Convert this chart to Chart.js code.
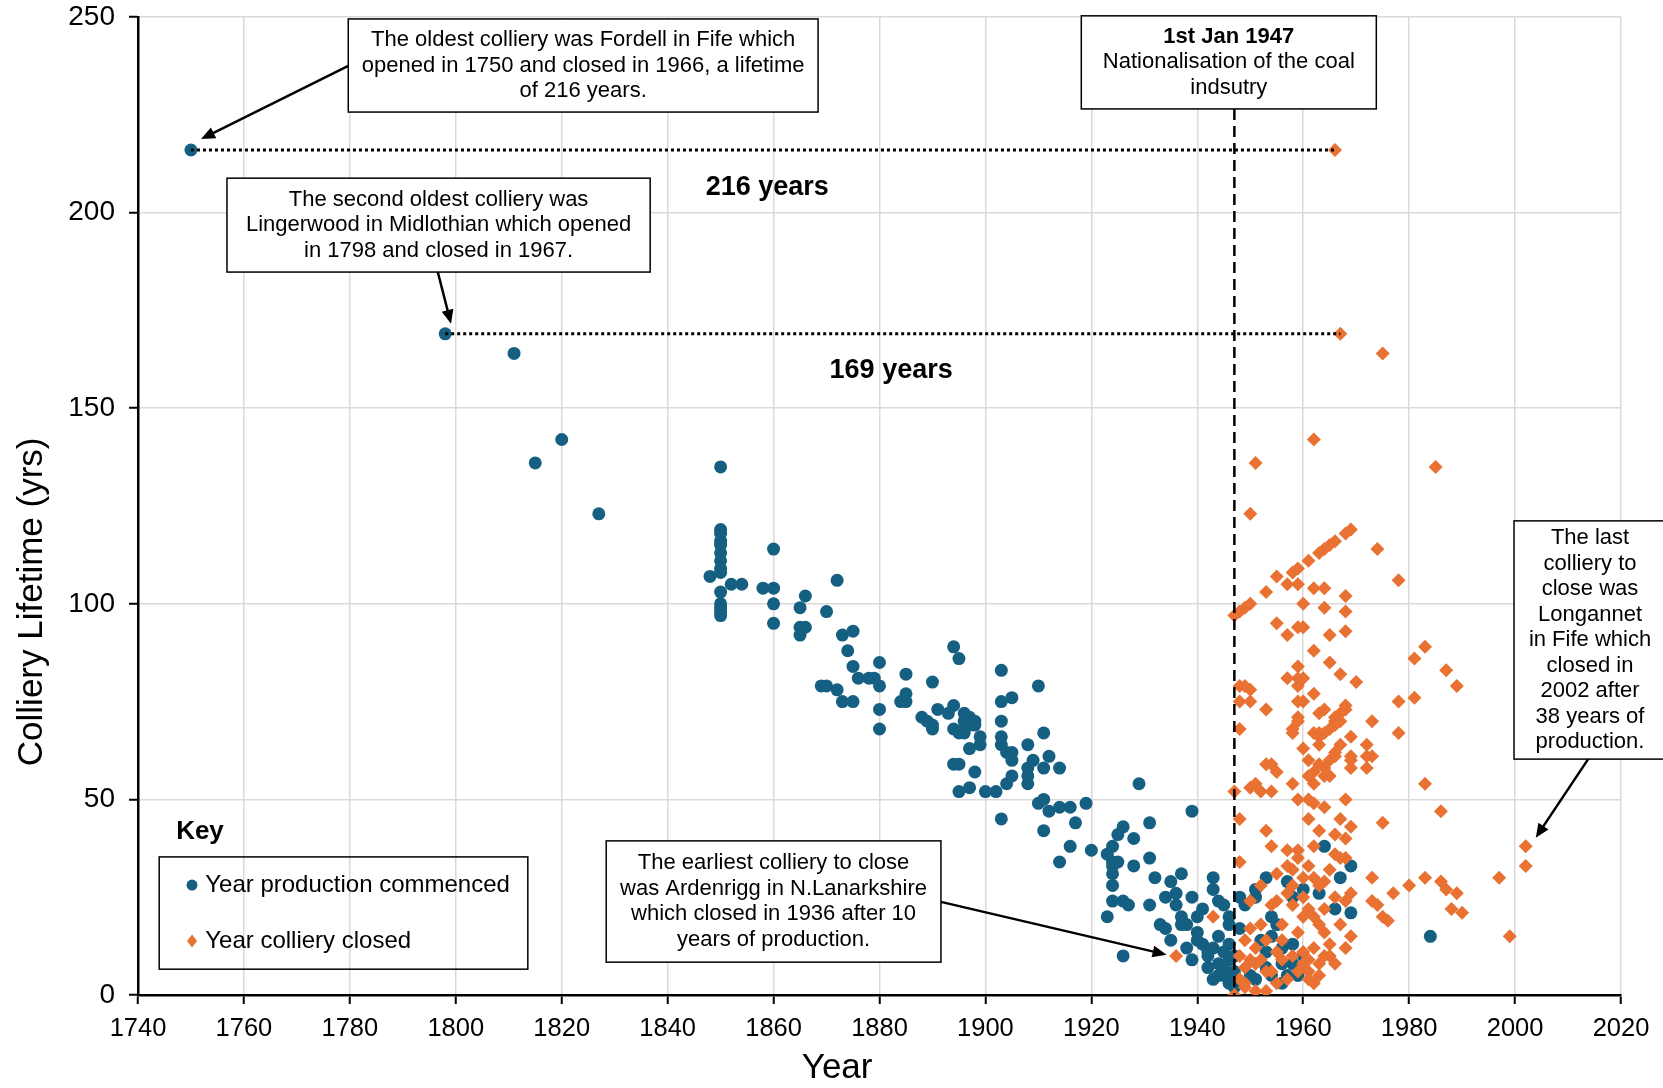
<!DOCTYPE html>
<html>
<head>
<meta charset="utf-8">
<title>Colliery lifetimes</title>
<script src="https://cdn.jsdelivr.net/npm/chart.js@4.4.1/dist/chart.umd.min.js"></script>
<style>
  html, body { margin: 0; padding: 0; background: #fff; }
  #wrap { width: 1663px; height: 1088px; }
</style>
</head>
<body>
<div id="wrap"><canvas id="collieryChart" width="1663" height="1088"></canvas></div>
<script>
// [year, lifetime]
const commencedPoints = [
    [1750,216],[1798,169],[1811,164],[1815,136],[1820,142],[1827,123],
    [1850,135],[1850,119],[1850,118],[1850,116],[1850,115],[1850,113],[1850,111],[1850,109],[1850,108],
    [1848,107],[1852,105],[1854,105],[1850,103],[1850,100],[1850,99],[1850,98],[1850,97],
    [1858,104],[1860,104],[1860,114],[1860,100],[1860,95],[1865,99],[1866,102],[1865,94],[1866,94],[1865,92],
    [1870,98],[1872,106],[1873,92],[1875,93],[1874,88],[1875,84],[1880,85],[1876,81],[1878,81],[1879,81],
    [1880,79],[1869,79],[1870,79],[1872,78],[1873,75],[1875,75],[1880,73],[1880,68],
    [1885,82],[1885,77],[1884,75],[1885,75],[1890,80],[1888,71],[1889,70],[1890,68],[1890,69],[1891,73],
    [1893,72],[1894,74],[1894,89],[1895,86],[1896,72],[1896,70],[1897,71],[1897,69],[1898,70],[1896,68],
    [1894,68],[1895,67],[1896,67],[1897,63],[1898,69],[1899,66],[1899,64],[1894,59],[1895,59],[1898,57],
    [1895,52],[1897,53],[1900,52],[1902,52],
    [1903,83],[1905,76],[1903,75],[1903,70],[1903,66],[1903,64],[1904,62],[1905,62],[1905,60],[1904,54],
    [1905,56],[1910,79],[1911,67],[1908,64],[1909,60],[1908,58],[1908,56],[1908,54],[1911,58],[1912,61],
    [1914,58],[1911,50],[1919,49],[1910,49],[1912,47],[1914,48],[1916,48],[1903,45],[1917,44],[1911,42],
    [1916,38],[1914,34],[1920,37],
    [1923,36],[1924,38],[1924,34],[1924,33],[1924,31],[1924,28],[1924,24],[1923,20],[1926,10],[1929,54],
    [1939,47],[1931,44],[1926,43],[1925,41],[1928,40],[1931,35],[1925,34],[1928,33],[1932,30],[1937,31],
    [1935,29],[1943,30],[1936,26],[1934,25],[1939,25],[1943,27],[1944,24],[1945,23],[1926,24],[1927,23],
    [1931,23],[1941,22],[1940,20],[1937,20],[1936,23],[1946,20],[1946,18],[1937,18],[1938,18],[1933,18],
    [1934,17],[1940,16],[1940,14],[1944,15],[1935,14],[1938,12],[1939,9],[1942,11],[1942,10],[1944,8],
    [1945,7],[1945,5],[1946,4],[1946,3],[1944,5],[1946,9],[1946,13],[1941,13],[1943,12],[1945,11],
    [1947,10],[1947,6],[1947,2],[1943,4],[1942,7],
    [1948,25],[1948,17],[1949,23],[1951,25],[1951,27],[1953,30],[1957,29],[1954,20],[1955,18],[1954,15],
    [1956,12],[1953,11],[1952,14],[1953,7],[1954,5],[1956,3],[1957,5],[1950,5],[1951,4],[1960,27],
    [1958,25],[1964,38],[1969,33],[1967,30],[1963,26],[1966,22],[1969,21],[1984,15],[1958,8],[1959,5],
    [1960,10],[1956,8],[1958,13]
];

const closedPoints = [
    [1966,216],[1967,169],[1975,164],[1962,142],[1951,136],[1985,135],[1950,123],
    [1969,119],[1968,118],[1966,116],[1965,115],[1964,114],[1963,113],[1974,114],
    [1961,111],[1959,109],[1958,108],[1955,107],[1957,105],[1959,105],[1953,103],[1962,104],[1964,104],
    [1968,102],[1978,106],[1950,100],[1949,99],[1948,98],[1947,97],[1960,100],[1964,99],[1968,98],
    [1955,95],[1959,94],[1960,94],[1957,92],[1965,92],[1968,93],[1962,88],[1965,85],[1967,82],[1970,80],
    [1983,89],[1981,86],[1987,83],[1989,79],[1959,84],[1957,81],[1959,81],[1960,81],[1959,79],
    [1948,79],[1949,79],[1950,78],[1948,75],[1950,75],[1962,77],[1959,75],[1960,75],[1953,73],
    [1978,75],[1981,76],[1968,74],[1968,73],[1967,72],[1966,71],[1966,70],[1964,73],[1963,72],
    [1959,71],[1959,70],[1958,68],[1958,67],[1948,68],[1973,70],[1978,67],
    [1962,67],[1963,67],[1963,66],[1964,67],[1965,68],[1966,69],[1967,70],[1969,66],[1960,63],[1963,64],
    [1972,64],[1973,61],[1967,64],[1966,62],[1966,61],[1965,60],[1964,58],[1969,60],[1969,58],
    [1953,59],[1954,59],[1955,57],[1972,58],[1961,56],[1962,54],[1964,56],[1965,56],[1983,54],[1958,54],
    [1950,53],[1951,54],[1952,52],[1954,52],[1947,52],[1959,50],[1961,50],[1968,50],[1986,47],[1975,44],
    [1969,43],[1968,40],[1966,41],[1962,38],[1961,45],[1964,48],[1962,49],
    [1948,45],[1953,42],[1954,38],[1957,37],[1959,35],[1948,34],[1957,33],[1955,31],[1952,28],[1950,24],
    [1954,23],[1958,23],[1960,25],[1960,20],[1943,20],[1952,18],[1950,17],[1956,18],[1959,16],[1949,14],
    [1951,12],[1953,14],[1955,11],[1956,9],[1958,10],[1960,11],[1948,10],[1949,7],[1951,8],[1953,6],
    [1948,4],[1949,2],[1951,1],[1947,0],[1949,3],[1959,6],[1961,4],[1936,10],
    [1968,35],[1961,33],[1962,30],[1964,29],[1969,26],[1968,24],[1969,15],[1968,12],[1964,16],[1965,13],
    [1965,10],[1997,30],[1983,30],[1986,29],[1987,27],[1989,26],[1988,22],[1990,21],[1980,28],[1977,26],
    [1973,30],[1973,24],[1974,23],[1975,20],[1976,19],[2002,38],[2002,33],[1999,15],
    [1972,61],[1969,61],[1961,60],[1962,57],[1963,59],
    [1957,26],[1958,28],[1961,22],[1962,20],[1963,18],[1964,22],[1966,25],[1967,18],[1962,12],[1963,8],
    [1961,6],[1962,3],[1960,8],[1957,4],[1955,3],[1956,14],[1955,24],[1963,28],[1965,32],[1967,35],
    [1966,36],[1960,30],[1958,32],[1959,37],[1963,42],[1967,45],[1961,9],[1963,5],[1964,10],[1966,8],
    [1954,6],[1952,9],[1950,9],[1953,1]
];

const xTicks = { min: 1740, max: 2020, step: 20 };
const yTicks = { min: 0, max: 250, step: 50 };

const BLUE = "#156082";
const ORANGE = "#E97132";
const FONT = "'Liberation Sans', Arial, sans-serif";

// Callouts, positioned in data units (year, lifetime)
const callouts = [
    { x0: 1779.7, x1: 1868.4, y0: 249.5, y1: 225.7,
      lines: ["The oldest colliery was Fordell in Fife which", "opened in 1750 and closed in 1966, a lifetime", "of 216 years."],
      arrow: [1779.7, 237.5, 1751.9, 218.8] },
    { x0: 1756.8, x1: 1836.7, y0: 208.8, y1: 184.8,
      lines: ["The second oldest colliery was", "Lingerwood in Midlothian which opened", "in 1798 and closed in 1967."],
      arrow: [1796.6, 184.8, 1799.1, 171.6] },
    { x0: 1918.1, x1: 1973.8, y0: 250.3, y1: 226.5, boldFirst: true,
      lines: ["1st Jan 1947", "Nationalisation of the coal", "indsutry"] },
    { x0: 1999.8, x1: 2028.5, y0: 121.2, y1: 60.3,
      lines: ["The last", "colliery to", "close was", "Longannet", "in Fife which", "closed in", "2002 after", "38 years of", "production."],
      arrow: [2013.8, 60.3, 2003.9, 40.2] },
    { x0: 1828.4, x1: 1891.6, y0: 39.4, y1: 8.4,
      lines: ["The earliest colliery to close", "was Ardenrigg in N.Lanarkshire", "which closed in 1936 after 10", "years of production."],
      arrow: [1891.6, 23.8, 1934.2, 10.3] }
];

const lifetimeLines = [
    { from: 1750, to: 1966, life: 216, label: "216 years", lx: 1858.8, ly: 206.3 },
    { from: 1798, to: 1967, life: 169, label: "169 years", lx: 1882.2, ly: 159.5 }
];

function drawArrow(ctx, x0, y0, x1, y1) {
    const ang = Math.atan2(y1 - y0, x1 - x0);
    const head = 14, half = 6;
    ctx.beginPath();
    ctx.moveTo(x0, y0);
    ctx.lineTo(x1 - Math.cos(ang) * head * 0.8, y1 - Math.sin(ang) * head * 0.8);
    ctx.stroke();
    ctx.beginPath();
    ctx.moveTo(x1, y1);
    ctx.lineTo(x1 - Math.cos(ang) * head - Math.sin(ang) * half, y1 - Math.sin(ang) * head + Math.cos(ang) * half);
    ctx.lineTo(x1 - Math.cos(ang) * head + Math.sin(ang) * half, y1 - Math.sin(ang) * head - Math.cos(ang) * half);
    ctx.closePath();
    ctx.fill();
}

const annotationPlugin = {
    id: "annotations",
    afterDatasetsDraw(chart) {
        const { ctx, scales: { x, y } } = chart;
        const px = v => x.getPixelForValue(v);
        const py = v => y.getPixelForValue(v);

        ctx.save();
        ctx.strokeStyle = "#000";
        ctx.fillStyle = "#000";

        // 1947 nationalisation line
        ctx.lineWidth = 2.5;
        ctx.setLineDash([11, 6]);
        ctx.beginPath();
        ctx.moveTo(px(1947), py(226.5));
        ctx.lineTo(px(1947), py(0));
        ctx.stroke();

        // dotted lifetime lines + labels
        ctx.setLineDash([3, 3]);
        ctx.lineWidth = 3;
        lifetimeLines.forEach(l => {
            ctx.beginPath();
            ctx.moveTo(px(l.from), py(l.life));
            ctx.lineTo(px(l.to), py(l.life));
            ctx.stroke();
            ctx.font = "bold 27px " + FONT;
            ctx.textAlign = "center";
            ctx.textBaseline = "middle";
            ctx.fillText(l.label, px(l.lx), py(l.ly));
        });
        ctx.setLineDash([]);

        // callout boxes
        callouts.forEach(c => {
            const left = px(c.x0), right = px(c.x1), top = py(c.y0), bottom = py(c.y1);
            ctx.fillStyle = "#fff";
            ctx.fillRect(left, top, right - left, bottom - top);
            ctx.lineWidth = 1.5;
            ctx.strokeRect(left, top, right - left, bottom - top);

            ctx.fillStyle = "#000";
            ctx.textAlign = "center";
            ctx.textBaseline = "middle";
            const lh = 25.5;
            const cx = (left + right) / 2;
            const cy = (top + bottom) / 2 - (c.lines.length - 1) * lh / 2;
            c.lines.forEach((t, i) => {
                ctx.font = (c.boldFirst && i === 0 ? "bold " : "") + "22px " + FONT;
                ctx.fillText(t, cx, cy + i * lh);
            });

            if (c.arrow) {
                ctx.lineWidth = 2.5;
                const [a, b, d, e] = c.arrow;
                drawArrow(ctx, px(a), py(b), px(d), py(e));
            }
        });

        // key
        ctx.font = "bold 26px " + FONT;
        ctx.textAlign = "left";
        ctx.fillText("Key", px(1747.2), py(41.7));
        const kl = px(1744), kr = px(1813.6), kt = py(35.3), kb = py(6.6);
        ctx.lineWidth = 1.5;
        ctx.strokeRect(kl, kt, kr - kl, kb - kt);

        ctx.font = "24px " + FONT;
        ctx.fillStyle = BLUE;
        ctx.beginPath();
        ctx.arc(px(1750.2), py(28.1), 5.5, 0, Math.PI * 2);
        ctx.fill();
        ctx.fillStyle = ORANGE;
        const dx = px(1750.2), dy = py(13.8);
        ctx.beginPath();
        ctx.moveTo(dx, dy - 6.5); ctx.lineTo(dx + 5, dy); ctx.lineTo(dx, dy + 6.5); ctx.lineTo(dx - 5, dy);
        ctx.closePath();
        ctx.fill();
        ctx.fillStyle = "#000";
        ctx.fillText("Year production commenced", px(1752.7), py(28.1));
        ctx.fillText("Year colliery closed", px(1752.7), py(13.8));

        // axis titles (placed off-centre as in the original)
        ctx.font = "35px " + FONT;
        ctx.textAlign = "center";
        ctx.fillText("Year", px(1872), 1068);
        ctx.translate(32, py(100.5));
        ctx.rotate(-Math.PI / 2);
        ctx.fillText("Colliery Lifetime (yrs)", 0, 0);

        ctx.restore();
    }
};

const axisCommon = {
    type: "linear",
    grid: { color: "#d9d9d9", lineWidth: 1.5, tickColor: "#000", tickLength: 9, tickWidth: 2 },
    border: { color: "#000", width: 2.5 },
    ticks: { color: "#000", font: { family: FONT }, callback: v => String(v) },
    title: { display: false }
};

new Chart(document.getElementById("collieryChart"), {
    type: "scatter",
    data: {
        datasets: [
            {
                label: "Year colliery closed",
                data: closedPoints.map(p => ({ x: p[0], y: p[1] })),
                pointStyle: "rectRot",
                pointRadius: 7,
                backgroundColor: ORANGE,
                borderColor: ORANGE,
                borderWidth: 0,
                order: 0
            },
            {
                label: "Year production commenced",
                data: commencedPoints.map(p => ({ x: p[0], y: p[1] })),
                pointStyle: "circle",
                pointRadius: 6.5,
                backgroundColor: BLUE,
                borderColor: BLUE,
                borderWidth: 0,
                order: 1
            }
        ]
    },
    options: {
        responsive: false,
        animation: false,
        events: [],
        layout: { padding: { top: 17, right: 42, left: 0, bottom: 0 } },
        plugins: { legend: { display: false }, tooltip: { enabled: false } },
        scales: {
            x: {
                ...axisCommon,
                min: xTicks.min, max: xTicks.max,
                ticks: { ...axisCommon.ticks, font: { family: FONT, size: 25.5 }, stepSize: xTicks.step, padding: 10, maxRotation: 0 },
                afterFit: s => { s.height = 93; }
            },
            y: {
                ...axisCommon,
                min: yTicks.min, max: yTicks.max,
                // small lineHeight keeps the top label from pushing the plot down
                ticks: { ...axisCommon.ticks, font: { family: FONT, size: 28, lineHeight: 0.2 }, stepSize: yTicks.step, padding: 14 },
                afterFit: s => { s.width = 138; }
            }
        }
    },
    plugins: [annotationPlugin]
});
</script>
</body>
</html>
